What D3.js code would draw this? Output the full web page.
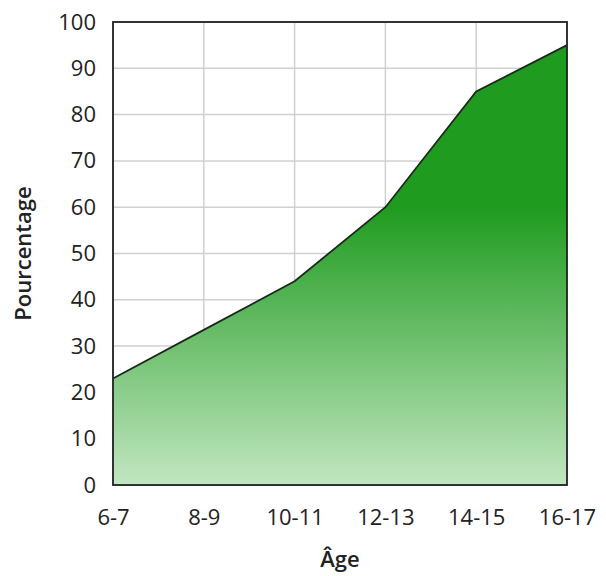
<!DOCTYPE html>
<html><head><meta charset="utf-8">
<script src="https://cdn.jsdelivr.net/npm/d3@7"></script>
<style>body{margin:0;background:#fff}text{font-family:"Open Sans",sans-serif;fill:#222}</style>
</head><body>
<svg id="c" width="606" height="576"></svg>
<script>
const categories = ["6-7","8-9","10-11","12-13","14-15","16-17"];
const values = [23, 33.5, 44, 60, 85, 95];
const yTicks = [0,10,20,30,40,50,60,70,80,90,100];
const xTitle = "Âge";
const yTitle = "Pourcentage";

const m = {l:113, r:567, t:22, b:485};
const svg = d3.select("#c");
const x = d3.scalePoint().domain(categories).range([m.l, m.r]);
const y = d3.scaleLinear().domain([0,100]).range([m.b, m.t]);

const defs = svg.append("defs");
const g = defs.append("linearGradient").attr("id","gr").attr("gradientUnits","userSpaceOnUse")
  .attr("x1",0).attr("x2",0).attr("y1",y(60)).attr("y2",y(0));
g.append("stop").attr("offset","0%").attr("stop-color","#1f9b1f");
g.append("stop").attr("offset","100%").attr("stop-color","#c2e6c2");

// grid
svg.append("g").selectAll("line").data(yTicks).join("line")
  .attr("x1",m.l).attr("x2",m.r).attr("y1",d=>y(d)).attr("y2",d=>y(d))
  .attr("stroke","#d0d0d0").attr("stroke-width",1.5);
svg.append("g").selectAll("line").data(categories).join("line")
  .attr("x1",d=>x(d)).attr("x2",d=>x(d)).attr("y1",m.t).attr("y2",m.b)
  .attr("stroke","#d0d0d0").attr("stroke-width",1.5);

const data = categories.map((c,i)=>({c, v:values[i]}));
svg.append("path").datum(data)
  .attr("d", d3.area().x(d=>x(d.c)).y0(y(0)).y1(d=>y(d.v)))
  .attr("fill","url(#gr)");
svg.append("path").datum(data)
  .attr("d", d3.line().x(d=>x(d.c)).y(d=>y(d.v)))
  .attr("fill","none").attr("stroke","#1a2a1a").attr("stroke-width",1.8);

svg.append("rect").attr("x",m.l).attr("y",m.t).attr("width",m.r-m.l).attr("height",m.b-m.t)
  .attr("fill","none").attr("stroke","#222").attr("stroke-width",1.8);

// y axis
const ya = svg.append("g").attr("transform",`translate(${m.l},0)`)
  .call(d3.axisLeft(y).tickValues(yTicks).tickSize(0).tickPadding(17));
ya.select(".domain").remove();
ya.selectAll("text").attr("font-size",22).attr("font-family","Open Sans").attr("fill","#2a2a2a");

const xa = svg.append("g").attr("transform",`translate(0,${m.b})`)
  .call(d3.axisBottom(x).tickSize(0).tickPadding(24));
xa.select(".domain").remove();
xa.selectAll("text").attr("font-size",22).attr("font-family","Open Sans").attr("fill","#2a2a2a");

svg.append("text").attr("x",(m.l+m.r)/2).attr("y",567).attr("text-anchor","middle")
  .attr("font-size",22).attr("font-weight",600).text(xTitle);
svg.append("text").attr("transform",`translate(31,${(m.t+m.b)/2}) rotate(-90)`).attr("text-anchor","middle")
  .attr("font-size",22).attr("font-weight",600).text(yTitle);
</script>
</body></html>
